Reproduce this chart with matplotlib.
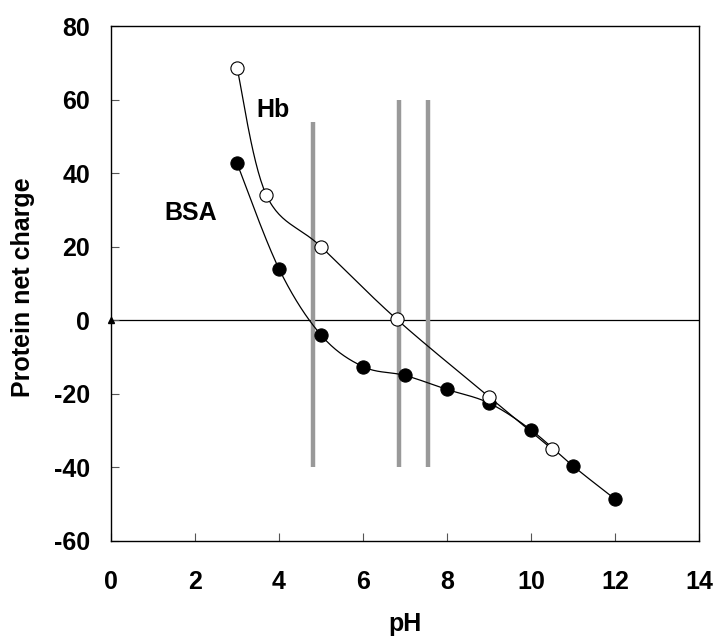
import numpy as np
import matplotlib
matplotlib.use("Agg")
import matplotlib.pyplot as plt

# Data
hb_ph = [3.0, 3.7, 5.0, 6.8, 9.0, 10.5]
hb_charge = [68.7, 34.0, 20.0, 0.3, -20.8, -35.0]
bsa_ph = [3.0, 4.0, 5.0, 6.0, 7.0, 8.0, 9.0, 10.0, 11.0, 12.0]
bsa_charge = [42.7, 14.0, -4.0, -12.6, -15.0, -18.8, -22.5, -29.8, -39.6, -48.6]
vline_x = [4.8, 6.85, 7.55]
vline_top = [54, 60, 60]
vline_bottom = [-40, -40, -40]
x_ticks = [0, 2, 4, 6, 8, 10, 12, 14]
y_ticks = [-60, -40, -20, 0, 20, 40, 60, 80]

plt.rcParams['font.family'] = ['Liberation Sans', 'DejaVu Sans']
plt.rcParams['font.weight'] = 'bold'
plt.rcParams['axes.unicode_minus'] = False

W, H = 716, 637
fig = plt.figure(figsize=(W / 100, H / 100), dpi=100)
ax = fig.add_axes([111 / W, 1 - 541 / H, (699 - 111) / W, (541 - 26) / H])
ax.set_xlim(0, 14)
ax.set_ylim(-60, 80)


def smooth(xs, ys, n=30):
    # Catmull-Rom style Bezier smoothing (like spreadsheet smoothed lines)
    xs = np.asarray(xs, float)
    ys = np.asarray(ys, float)
    sx = (699 - 111) / 14.0
    sy = (541 - 26) / 140.0
    P = np.column_stack([xs * sx, ys * sy])
    out = [P[0]]
    for i in range(len(P) - 1):
        p0 = P[i - 1] if i > 0 else P[i]
        p1 = P[i]
        p2 = P[i + 1]
        p3 = P[i + 2] if i + 2 < len(P) else P[i + 1]
        c1 = p1 + (p2 - p0) / 6.0
        c2 = p2 - (p3 - p1) / 6.0
        t = np.linspace(0, 1, n)[1:, None]
        seg = ((1 - t) ** 3) * p1 + 3 * ((1 - t) ** 2) * t * c1 + 3 * (1 - t) * t ** 2 * c2 + t ** 3 * p2
        out.extend(seg)
    out = np.array(out)
    return out[:, 0] / sx, out[:, 1] / sy


ax.axhline(0, color='black', lw=0.9, zorder=1)
for x, t, b in zip(vline_x, vline_top, vline_bottom):
    ax.plot([x, x], [b, t], color='#999999', lw=3.2, solid_capstyle='butt', zorder=2)

sx, sy = smooth(bsa_ph, bsa_charge)
ax.plot(sx, sy, color='black', lw=0.9, zorder=3)
sx, sy = smooth(hb_ph, hb_charge)
ax.plot(sx, sy, color='black', lw=0.9, zorder=3)

ax.plot(bsa_ph, bsa_charge, 'o', ms=9.5, mfc='black', mec='black', mew=0.8, zorder=4)
ax.plot(hb_ph, hb_charge, 'o', ms=9.5, mfc='white', mec='black', mew=0.8, zorder=5)

ax.plot([0], [0], marker='^', ms=4, color='black', clip_on=False, zorder=6)

ax.text(3.86, 57.3, 'Hb', fontsize=18, fontweight='bold', ha='center', va='center')
ax.text(1.9, 29.2, 'BSA', fontsize=18, fontweight='bold', ha='center', va='center')

ax.set_xticks(x_ticks)
ax.set_yticks(y_ticks)
ax.tick_params(axis='both', direction='in', length=6, width=0.8, labelsize=18,
               top=False, right=False, color='#555555')
ax.tick_params(axis='y', pad=15)
ax.tick_params(axis='x', pad=21)
for lab in ax.get_xticklabels() + ax.get_yticklabels():
    lab.set_fontweight('bold')
for s in ax.spines.values():
    s.set_linewidth(1.0)

ax.set_xlabel('pH', fontsize=18, fontweight='bold', va='center')
ax.set_ylabel('Protein net charge', fontsize=18, fontweight='bold', va='center')
ax.xaxis.set_label_coords(0.5, (541 - 624) / 515)
ax.yaxis.set_label_coords((23 - 111) / 588, 0.5 + (280 - 283.5) / 515)

fig.savefig('out.png', dpi=100)
